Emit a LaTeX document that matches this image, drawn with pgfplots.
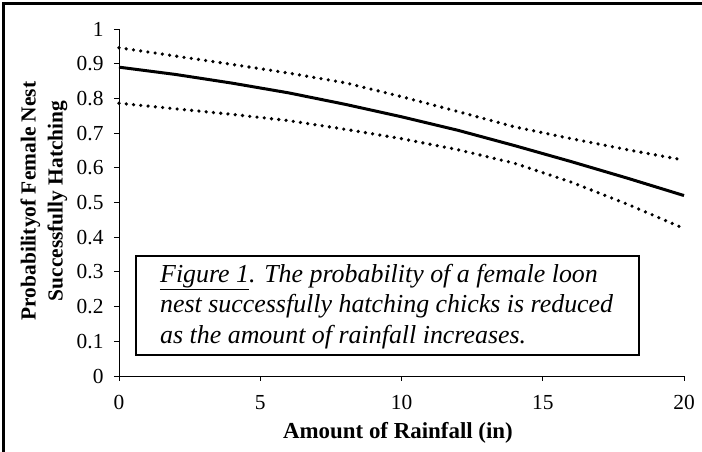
\documentclass[border=0pt]{standalone}
\usepackage{fontspec}
\setmainfont{Liberation Serif}
\usepackage{pgfplots}
\pgfplotsset{compat=1.18}
\begin{document}
\begin{tikzpicture}[x=1bp,y=1bp]
\useasboundingbox (-119,-76) rectangle (583,376);
\begin{axis}[
  at={(0,0)}, anchor=origin,
  scale only axis, width=565bp, height=347bp,
  xmin=0, xmax=20, ymin=0, ymax=1,
  axis x line=bottom, axis y line=left,
  axis line style={-, line width=0.8bp},
  xtick={0,5,10,15,20},
  ytick={0,0.1,...,1},
  tick align=outside, major tick length=5bp,
  tick style={line width=0.8bp, black},
  /pgf/number format/assume math mode=true,
  ticklabel style={font=\fontsize{21.5}{25}\selectfont},
  xticklabel style={yshift=-11bp},
  yticklabel style={xshift=-7bp, /pgf/number format/fixed},
  clip=false,
]
\addplot[black, line width=3bp] coordinates {
(0,0.890) (2,0.869) (4,0.844) (6,0.816) (8,0.783) (10,0.747) (12,0.708) (14,0.664) (16,0.618) (18,0.570) (20,0.520)};
\addplot[black, line width=3.6bp, line cap=round, dash pattern=on 0pt off 7.3bp] coordinates {
(0,0.946) (2,0.922) (4,0.898) (6,0.873) (8,0.845) (10,0.805) (12,0.762) (14,0.718) (16,0.684) (18,0.652) (20,0.622)};
\addplot[black, line width=3.6bp, line cap=round, dash pattern=on 0pt off 7.3bp] coordinates {
(0,0.786) (2,0.770) (4,0.754) (6,0.736) (8,0.711) (10,0.684) (12,0.652) (14,0.613) (16,0.559) (18,0.495) (20,0.425)};
\end{axis}
% frame
\draw[line width=3bp] (-115.5,-80) -- (-115.5,372.5) -- (590,372.5);
% caption box
\draw[line width=2.6bp, fill=white] (17,120) rectangle (520,21);
\node[anchor=north west, align=left, inner sep=0pt, font=\itshape\fontsize{26}{30.5}\selectfont] at (41,112)
 {\underline{Figure 1}. The probability of a female loon\\nest successfully hatching chicks is reduced\\as the amount of rainfall increases.};
% axis labels
\node[rotate=90, align=center, font=\bfseries\fontsize{21.5}{27}\selectfont] at (-75,175)
 {Probabilityof Female Nest\\Successfully Hatching};
\node[font=\bfseries\fontsize{23}{25}\selectfont] at (279,-57) {Amount of Rainfall (in)};
\end{tikzpicture}
\end{document}
